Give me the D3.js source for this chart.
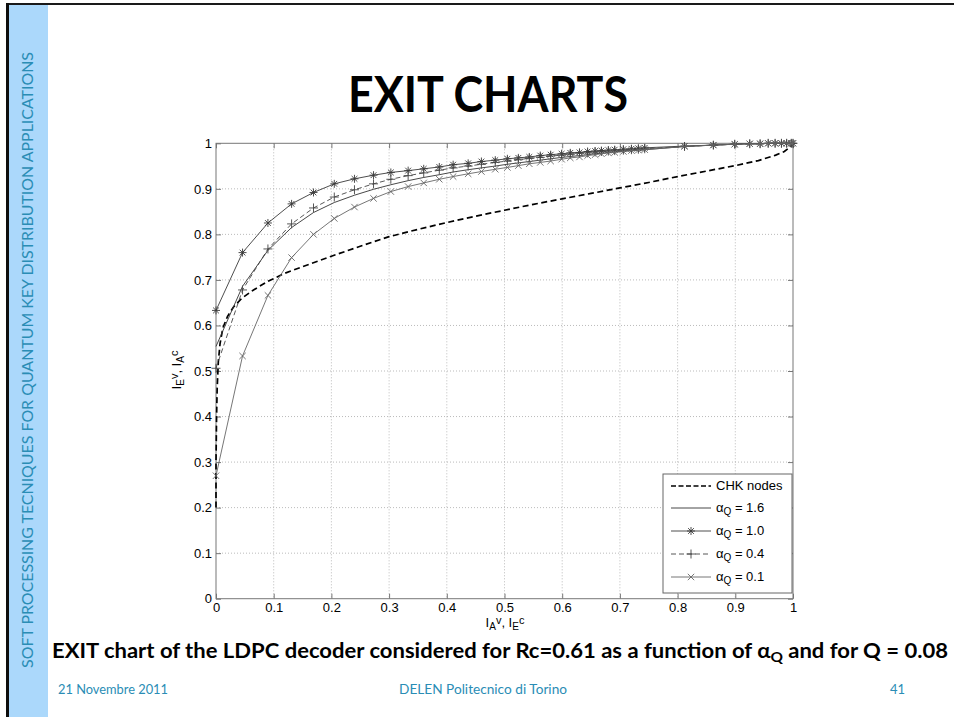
<!DOCTYPE html>
<html><head><meta charset="utf-8">
<script src="https://cdn.jsdelivr.net/npm/d3@7/dist/d3.min.js"></script>
<style>
  html,body{margin:0;padding:0;background:#fff}
  svg{display:block}
</style>
</head><body>
<svg id="slide" width="954" height="717"></svg>
<script>
// A-priori information samples on the variable-node side (shared by all VN curves)
const iaV = [0, 0.046, 0.090, 0.131, 0.169, 0.205, 0.240, 0.273, 0.303, 0.333, 0.360, 0.387,
  0.411, 0.437, 0.460, 0.484, 0.505, 0.524, 0.543, 0.562, 0.580, 0.599, 0.614, 0.630, 0.644,
  0.657, 0.668, 0.680, 0.691, 0.706, 0.720, 0.732, 0.743, 0.812, 0.862, 0.899, 0.925, 0.943,
  0.957, 0.969, 0.980, 0.989, 0.997, 1.0];

// Extrinsic information of the variable nodes for each alpha_Q
const ieAlpha16 = [0.554, 0.686, 0.765, 0.815, 0.848, 0.870, 0.886, 0.899, 0.909, 0.918, 0.925, 0.931,
  0.937, 0.942, 0.946, 0.950, 0.954, 0.957, 0.960, 0.963, 0.966, 0.969, 0.971, 0.973, 0.975,
  0.977, 0.978, 0.980, 0.981, 0.983, 0.984, 0.985, 0.986, 0.993, 0.996, 0.998, 0.999, 0.999,
  1, 1, 1, 1, 1, 1];
const ieAlpha10 = [0.633, 0.760, 0.825, 0.867, 0.892, 0.911, 0.922, 0.930, 0.936, 0.940, 0.944, 0.948,
  0.953, 0.956, 0.960, 0.963, 0.966, 0.968, 0.970, 0.973, 0.975, 0.977, 0.979, 0.980, 0.982,
  0.983, 0.984, 0.985, 0.986, 0.987, 0.988, 0.989, 0.990, 0.994, 0.996, 0.998, 0.999, 0.999,
  1, 1, 1, 1, 1, 1];
const ieAlpha04 = [0.506, 0.678, 0.768, 0.823, 0.858, 0.882, 0.898, 0.911, 0.921, 0.929, 0.935, 0.941,
  0.946, 0.950, 0.954, 0.958, 0.961, 0.964, 0.967, 0.969, 0.972, 0.974, 0.976, 0.978, 0.979,
  0.981, 0.982, 0.983, 0.984, 0.985, 0.986, 0.987, 0.988, 0.993, 0.996, 0.998, 0.999, 0.999,
  1, 1, 1, 1, 1, 1];
const ieAlpha01 = [0.270, 0.533, 0.666, 0.749, 0.800, 0.835, 0.860, 0.879, 0.894, 0.905, 0.913, 0.921,
  0.927, 0.933, 0.938, 0.943, 0.947, 0.951, 0.955, 0.958, 0.961, 0.965, 0.968, 0.970, 0.973,
  0.975, 0.977, 0.979, 0.980, 0.982, 0.984, 0.985, 0.986, 0.993, 0.996, 0.998, 0.999, 0.999,
  1, 1, 1, 1, 1, 1];

// Check-node curve (axes swapped: I_E^c on x, I_A^c on y)
const chkIE = [0, 0, 0.001, 0.002, 0.004, 0.007, 0.012, 0.02, 0.03, 0.045, 0.065, 0.09, 0.12, 0.15,
  0.2, 0.25, 0.3, 0.35, 0.4, 0.45, 0.5, 0.55, 0.6, 0.65, 0.7, 0.75, 0.8, 0.85, 0.9, 0.94, 0.97,
  0.985, 0.995, 1.0];
const chkIA = [0.20, 0.30, 0.40, 0.46, 0.52, 0.56, 0.595, 0.62, 0.64, 0.66, 0.678, 0.697, 0.715, 0.729,
  0.752, 0.774, 0.795, 0.811, 0.826, 0.840, 0.853, 0.866, 0.878, 0.890, 0.902, 0.914, 0.927,
  0.939, 0.951, 0.962, 0.974, 0.982, 0.992, 1.0];

const xTicks = [0, 0.1, 0.2, 0.3, 0.4, 0.5, 0.6, 0.7, 0.8, 0.9, 1];
const yTicks = [0, 0.1, 0.2, 0.3, 0.4, 0.5, 0.6, 0.7, 0.8, 0.9, 1];
const alphaLabels = ["1.6", "1.0", "0.4", "0.1"];

const svg = d3.select("#slide");
const teal = "#2a8db5";
const slideFont = "Lato, 'Open Sans', sans-serif";
const plotFont = "'Liberation Sans', Arial, sans-serif";

// ---- slide frame ----
svg.append("rect").attr("x", 9).attr("y", 5).attr("width", 39).attr("height", 712).attr("fill", "#abd8fb");
svg.append("rect").attr("x", 6).attr("y", 3).attr("width", 948).attr("height", 2).attr("fill", "#1a1a1a");
svg.append("rect").attr("x", 6).attr("y", 3).attr("width", 3).attr("height", 714).attr("fill", "#0d0d0d");

svg.append("text")
  .attr("transform", "translate(33,668) rotate(-90)")
  .attr("font-family", slideFont).attr("font-size", 15).attr("fill", teal)
  .attr("textLength", 616).attr("lengthAdjust", "spacingAndGlyphs")
  .text("SOFT PROCESSING TECNIQUES FOR QUANTUM KEY DISTRIBUTION APPLICATIONS");

svg.append("text")
  .attr("x", 348).attr("y", 112)
  .attr("font-family", slideFont).attr("font-weight", 700).attr("font-size", 50)
  .attr("textLength", 280).attr("lengthAdjust", "spacingAndGlyphs")
  .text("EXIT CHARTS");

// ---- plot area ----
const plotL = 216, plotR = 793, plotT = 143.3, plotB = 598.7;
const x = d3.scaleLinear().domain([0, 1]).range([plotL, plotR]);
const y = d3.scaleLinear().domain([0, 1]).range([plotB, plotT]);

const plot = svg.append("g");
plot.append("rect").attr("x", plotL).attr("y", plotT).attr("width", plotR - plotL).attr("height", plotB - plotT).attr("fill", "#fff");

// dotted grid
const grid = plot.append("g").attr("stroke", "#aaa").attr("stroke-width", 0.8).attr("stroke-dasharray", "1,2");
grid.selectAll("line.gx").data(xTicks.slice(1, -1)).join("line").attr("class", "gx")
  .attr("x1", d => x(d)).attr("x2", d => x(d)).attr("y1", plotT).attr("y2", plotB);
grid.selectAll("line.gy").data(yTicks.slice(1, -1)).join("line").attr("class", "gy")
  .attr("y1", d => y(d)).attr("y2", d => y(d)).attr("x1", plotL).attr("x2", plotR);

// axes with inward ticks on all four sides
const fmt = d => d3.format("")(d);
function styleAxis(g) {
  g.select(".domain").remove();
  g.selectAll(".tick line").attr("stroke", "#777");
  g.selectAll(".tick text").attr("font-family", plotFont).attr("font-size", 13).attr("fill", "#000");
}
plot.append("g").attr("transform", `translate(0,${plotB})`)
  .call(d3.axisBottom(x).tickValues(xTicks).tickFormat(fmt).tickSizeInner(-5).tickSizeOuter(0).tickPadding(4))
  .call(styleAxis);
plot.append("g").attr("transform", `translate(0,${plotT})`)
  .call(d3.axisTop(x).tickValues(xTicks).tickSizeInner(-5).tickSizeOuter(0).tickFormat(""))
  .call(styleAxis);
plot.append("g").attr("transform", `translate(${plotL},0)`)
  .call(d3.axisLeft(y).tickValues(yTicks).tickFormat(fmt).tickSizeInner(-5).tickSizeOuter(0).tickPadding(4))
  .call(styleAxis);
plot.append("g").attr("transform", `translate(${plotR},0)`)
  .call(d3.axisRight(y).tickValues(yTicks).tickSizeInner(-5).tickSizeOuter(0).tickFormat(""))
  .call(styleAxis);
plot.append("rect").attr("x", plotL).attr("y", plotT).attr("width", plotR - plotL).attr("height", plotB - plotT)
  .attr("fill", "none").attr("stroke", "#777").attr("stroke-width", 1);

// marker shapes
const markerPath = {
  star: r => `M${-r},0H${r}M0,${-r}V${r}M${-r * 0.72},${-r * 0.72}L${r * 0.72},${r * 0.72}M${-r * 0.72},${r * 0.72}L${r * 0.72},${-r * 0.72}`,
  plus: r => `M${-r},0H${r}M0,${-r}V${r}`,
  cross: r => `M${-r},${-r}L${r},${r}M${-r},${r}L${r},${-r}`
};

const series = [
  { vals: ieAlpha16, marker: null, color: "#333", dash: null },
  { vals: ieAlpha10, marker: "star", size: 4, color: "#3a3a3a", dash: null },
  { vals: ieAlpha04, marker: "plus", size: 4.5, color: "#444", dash: "5,3" },
  { vals: ieAlpha01, marker: "cross", size: 3.2, color: "#666", dash: null }
];

const line = d3.line().x(d => x(d[0])).y(d => y(d[1]));

// check-node curve
plot.append("path")
  .datum(chkIE.map((v, i) => [v, chkIA[i]]))
  .attr("d", line).attr("fill", "none").attr("stroke", "#000").attr("stroke-width", 1.7)
  .attr("stroke-dasharray", "6,3.5");

series.forEach(s => {
  const pts = iaV.map((v, i) => [v, s.vals[i]]);
  plot.append("path").datum(pts).attr("d", line)
    .attr("fill", "none").attr("stroke", s.color).attr("stroke-width", 0.9)
    .attr("stroke-dasharray", s.dash);
  if (s.marker) {
    plot.append("g").selectAll("path").data(pts).join("path")
      .attr("transform", d => `translate(${x(d[0])},${y(d[1])})`)
      .attr("d", markerPath[s.marker](s.size))
      .attr("fill", "none").attr("stroke", s.color).attr("stroke-width", 0.9);
  }
});

// ---- legend ----
const lg = plot.append("g");
lg.append("rect").attr("x", 663).attr("y", 474).attr("width", 129).attr("height", 119)
  .attr("fill", "#fff").attr("stroke", "#666").attr("stroke-width", 1);
const rows = [486, 508, 531, 554, 577];
const lgItems = [{ color: "#000", dash: "5,2.5", width: 1.3, marker: null, label: "CHK nodes" }]
  .concat(series.map((s, i) => ({ color: s.color, dash: s.dash, width: 0.9, marker: s.marker, size: s.size, alpha: alphaLabels[i] })));
lgItems.forEach((it, i) => {
  const yy = rows[i];
  lg.append("line").attr("x1", 671).attr("x2", 711).attr("y1", yy).attr("y2", yy)
    .attr("stroke", it.color).attr("stroke-width", it.width).attr("stroke-dasharray", it.dash);
  if (it.marker) {
    lg.append("path").attr("transform", `translate(691,${yy})`).attr("d", markerPath[it.marker](it.size))
      .attr("fill", "none").attr("stroke", it.color).attr("stroke-width", 0.9);
  }
  const t = lg.append("text").attr("x", 716).attr("y", yy + 4)
    .attr("font-family", plotFont).attr("font-size", 13).attr("fill", "#000");
  if (it.label) {
    t.text(it.label);
  } else {
    t.append("tspan").text("\u03B1");
    t.append("tspan").attr("dy", 3).attr("font-size", 10).text("Q");
    t.append("tspan").attr("dy", -3).text(" = " + it.alpha);
  }
});

// ---- axis labels ----
const xl = svg.append("text").attr("x", 505).attr("y", 627).attr("text-anchor", "middle")
  .attr("font-family", plotFont).attr("font-size", 13);
xl.append("tspan").text("I");
xl.append("tspan").attr("dy", 3).attr("font-size", 10).text("A");
xl.append("tspan").attr("dy", -6).attr("font-size", 11).text("v");
xl.append("tspan").attr("dy", 3).text(", I");
xl.append("tspan").attr("dy", 3).attr("font-size", 10).text("E");
xl.append("tspan").attr("dy", -6).attr("font-size", 11).text("c");

const yl = svg.append("text").attr("transform", "translate(181,370) rotate(-90)").attr("text-anchor", "middle")
  .attr("font-family", plotFont).attr("font-size", 13);
yl.append("tspan").text("I");
yl.append("tspan").attr("dy", 3).attr("font-size", 10).text("E");
yl.append("tspan").attr("dy", -6).attr("font-size", 11).text("v");
yl.append("tspan").attr("dy", 3).text(", I");
yl.append("tspan").attr("dy", 3).attr("font-size", 10).text("A");
yl.append("tspan").attr("dy", -6).attr("font-size", 11).text("c");

// ---- caption and footer ----
const cap = svg.append("text").attr("x", 52).attr("y", 658)
  .attr("font-family", slideFont).attr("font-weight", 700).attr("font-size", 20)
  .attr("textLength", 896).attr("lengthAdjust", "spacingAndGlyphs");
cap.append("tspan").text("EXIT chart of the LDPC decoder considered for Rc=0.61 as a function of \u03B1");
cap.append("tspan").attr("dy", 4).attr("font-size", 14).text("Q");
cap.append("tspan").attr("dy", -4).text(" and for Q = 0.08");

const foot = svg.append("g").attr("font-family", slideFont).attr("font-size", 13.5).attr("fill", teal);
foot.append("text").attr("x", 58).attr("y", 694).attr("textLength", 110).attr("lengthAdjust", "spacingAndGlyphs").text("21 Novembre 2011");
foot.append("text").attr("x", 399).attr("y", 694).attr("textLength", 168).attr("lengthAdjust", "spacingAndGlyphs").text("DELEN Politecnico di Torino");
foot.append("text").attr("x", 890).attr("y", 694).attr("textLength", 15).attr("lengthAdjust", "spacingAndGlyphs").text("41");
</script>
</body></html>
